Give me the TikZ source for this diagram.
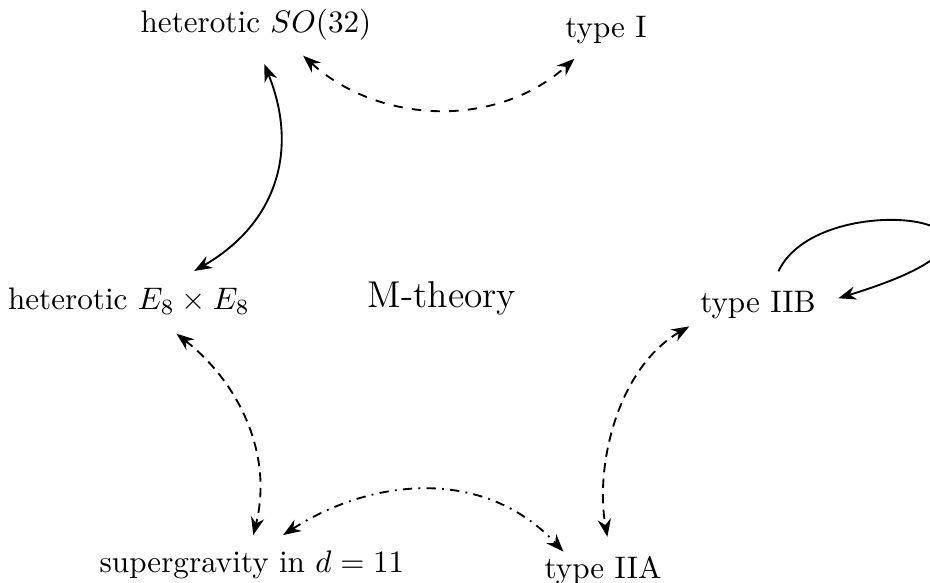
\documentclass[tikz,border=0pt]{standalone}
\usepackage{amsmath,amssymb}
\usepackage{tikz}
\usetikzlibrary{arrows.meta}

\begin{document}
\begin{tikzpicture}[
    theory/.style = {align=center},
    centre/.style = {align=center, font=\large},
    duality/.style = {<->, >=Stealth, semithick},
    selfdual/.style = {->, >=Stealth, semithick}
]
\useasboundingbox (0, 0) rectangle (10.5, -6.582);

% Limits of the moduli space
\node (so32) [theory] at (2.890, -0.282) {heterotic $SO(32)$};
\node (typeI) [theory] at (6.842, -0.343) {type I};
\node (e8) [theory] at (1.456, -3.404) {heterotic $E_8\times E_8$};
\node (iib) [theory] at (8.558, -3.448) {type IIB};
\node (sugra) [theory] at (2.845, -6.381) {supergravity in $d=11$};
\node (iia) [theory] at (6.808, -6.440) {type IIA};

% Centre
\node (mth) [centre] at (4.990, -3.364) {M-theory};

% Dualities between the limits
\draw [duality, dashed, shorten <=2pt, shorten >=1.7pt] (so32.-32) to[out=-42, in=-138] (typeI.-138);
\draw [duality, shorten <=4.3pt, shorten >=4.1pt] (so32.-83) to[out=-68, in=30, looseness=1.15] (e8.24);
\draw [duality, densely dashed, shorten <=4.2pt, shorten >=1.7pt] (e8.-33) to[out=-38, in=76] (sugra.north);
\draw [duality, dashdotted, shorten <=3pt, shorten >=-2.9pt] (sugra.47) to[out=33, in=133] (iia.151);
\draw [duality, densely dashed, shorten >=2.7pt] (iib.197) to[out=210, in=100, looseness=0.9] (iia.77);

% S-duality of type IIB
\draw [selfdual, shorten <=3.3pt, shorten >=3.9pt] (iib.57) .. controls +(65:1.24) and +(17:3.05) .. (iib.3);

\end{tikzpicture}
\end{document}
